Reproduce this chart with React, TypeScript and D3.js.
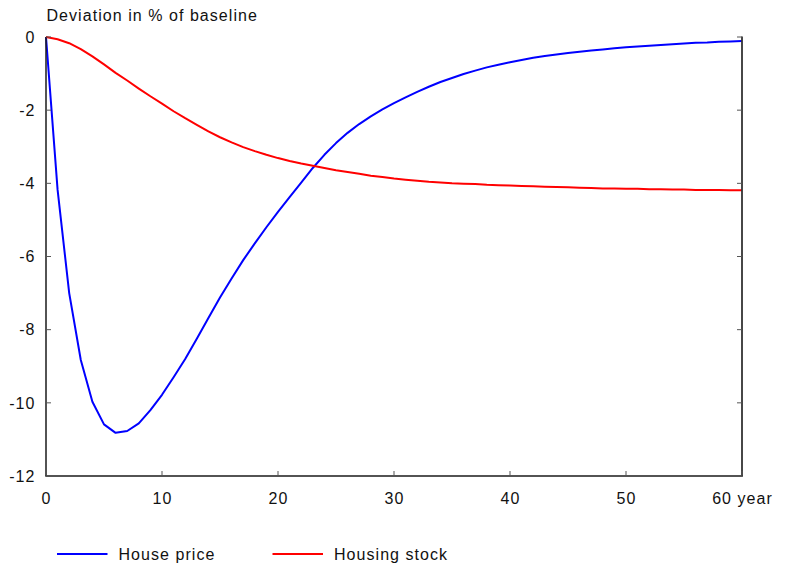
import React from "react";
import * as d3 from "d3";

const years: number[] = Array.from({ length: 61 }, (_, i) => i);

const housePrice: number[] = [
  0, -4.18, -7.0, -8.83, -9.97, -10.59, -10.82, -10.77, -10.56, -10.2,
  -9.78, -9.3, -8.8, -8.25, -7.68, -7.12, -6.6, -6.1, -5.64, -5.2,
  -4.78, -4.38, -3.98, -3.58, -3.22, -2.9, -2.62, -2.38, -2.17, -1.98,
  -1.81, -1.65, -1.5, -1.36, -1.23, -1.12, -1.01, -0.92, -0.83, -0.76,
  -0.69, -0.63, -0.57, -0.52, -0.48, -0.44, -0.4, -0.37, -0.34, -0.31,
  -0.28, -0.26, -0.24, -0.22, -0.2, -0.18, -0.16, -0.15, -0.13, -0.12,
  -0.11,
];

const housingStock: number[] = [
  0, -0.06, -0.17, -0.33, -0.53, -0.75, -0.98, -1.19, -1.41, -1.62,
  -1.82, -2.03, -2.22, -2.4, -2.58, -2.74, -2.88, -3.01, -3.12, -3.22,
  -3.31, -3.39, -3.46, -3.52, -3.58, -3.64, -3.69, -3.74, -3.79, -3.83,
  -3.87, -3.9, -3.93, -3.96, -3.98, -4.0, -4.01, -4.02, -4.04, -4.05,
  -4.06, -4.07, -4.08, -4.09, -4.1, -4.11, -4.12, -4.13, -4.14, -4.14,
  -4.15, -4.15, -4.16, -4.16, -4.17, -4.17, -4.18, -4.18, -4.18, -4.19,
  -4.19,
];

const xTicks: number[] = [0, 10, 20, 30, 40, 50, 60];
const xTickLabels: string[] = ["0", "10", "20", "30", "40", "50", "60 year"];
const yTicks: number[] = [0, -2, -4, -6, -8, -10, -12];
const yTickLabels: string[] = ["0", "-2", "-4", "-6", "-8", "-10", "-12"];

const seriesNames: string[] = ["House price", "Housing stock"];
const seriesColors: string[] = ["#0000ff", "#ff0000"];
const title = "Deviation in % of baseline";

export default function App() {
  const W = 787;
  const H = 565;
  const left = 46;
  const right = 742;
  const top = 37;
  const bottom = 476;

  const x = d3.scaleLinear().domain([0, 60]).range([left, right]);
  const y = d3.scaleLinear().domain([0, -12]).range([top, bottom]);

  const line = d3
    .line<number>()
    .x((_, i) => x(years[i]))
    .y((d) => y(d));

  const font = "'Liberation Sans', Arial, Helvetica, sans-serif";
  const textStyle: React.CSSProperties = { letterSpacing: "1.05px" };
  const axisColor = "#1a1a1a";
  const tickLen = 5;

  const series = [housePrice, housingStock];

  return (
    <svg
      width={W}
      height={H}
      viewBox={`0 0 ${W} ${H}`}
      style={{ position: "absolute", left: 0, top: 0, background: "#fff" }}
      fontFamily={font}
      fontSize={16}
    >
      <rect x={0} y={0} width={W} height={H} fill="#fff" />
      <text x={46.5} y={20.5} fill="#111" style={textStyle}>
        {title}
      </text>

      {series.map((s, k) => (
        <path
          key={k}
          d={line(s) || ""}
          fill="none"
          stroke={seriesColors[k]}
          strokeWidth={2}
          strokeLinejoin="round"
        />
      ))}

      <line x1={x(0)} x2={x(0)} y1={y(0)} y2={y(-12)} stroke={axisColor} strokeWidth={1.5} />
      <line x1={x(60)} x2={x(60)} y1={y(0) - 0.5} y2={y(-12)} stroke="#333" strokeWidth={1.8} />
      <line x1={x(0) - 0.75} x2={x(60) + 0.9} y1={y(-12)} y2={y(-12)} stroke={axisColor} strokeWidth={1.5} />

      {yTicks.map((t, i) => (
        <g key={"y" + i}>
          <line x1={x(0)} x2={x(0) + tickLen} y1={y(t)} y2={y(t)} stroke="#555" strokeWidth={1} />
          <line x1={x(60)} x2={x(60) - tickLen} y1={y(t)} y2={y(t)} stroke="#555" strokeWidth={1} />
          <text x={35.5} y={y(t)} dy="0.36em" textAnchor="end" fill="#111" style={textStyle}>
            {yTickLabels[i]}
          </text>
        </g>
      ))}

      {xTicks.map((t, i) => (
        <g key={"x" + i}>
          <line x1={x(t)} x2={x(t)} y1={y(-12)} y2={y(-12) - tickLen} stroke="#555" strokeWidth={1} />
          <text x={x(t) + 0.5} y={504} textAnchor="middle" fill="#111" style={textStyle}>
            {xTickLabels[i]}
          </text>
        </g>
      ))}

      {seriesNames.map((n, k) => {
        const lx = 57 + k * 215.5;
        return (
          <g key={"l" + k}>
            <line x1={lx} x2={lx + 50.5} y1={554} y2={554} stroke={seriesColors[k]} strokeWidth={2} />
            <text x={lx + 61.5} y={559.5} fill="#111" style={textStyle}>
              {n}
            </text>
          </g>
        );
      })}
    </svg>
  );
}
